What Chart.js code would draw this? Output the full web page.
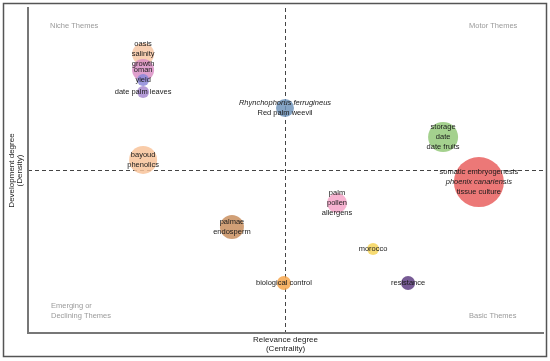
<!DOCTYPE html>
<html>
<head>
<meta charset="utf-8">
<script src="https://cdn.jsdelivr.net/npm/chart.js@4/dist/chart.umd.min.js"></script>
<style>
  html, body { margin: 0; padding: 0; background: #fff; }
  #wrap { width: 550px; height: 361px; }
</style>
</head>
<body>
<div id="wrap"><canvas id="themeMap"></canvas></div>
<script>
// centrality (x) and density (y), both scaled to -1..1
const themes = [
  ["oasis", "salinity", "growth"],
  ["oman"],
  ["yield"],
  ["date palm leaves"],
  ["*Rhynchophorus ferrugineus", "Red palm weevil"],
  ["storage", "date", "date fruits"],
  ["somatic embryogenesis", "*phoenix canariensis", "tissue culture"],
  ["bayoud", "phenolics"],
  ["palmae", "endosperm"],
  ["palm", "pollen", "allergens"],
  ["morocco"],
  ["biological control"],
  ["resistance"]
];
const centrality = [-0.553, -0.553, -0.553, -0.553, -0.002, 0.612, 0.751, -0.553, -0.208, 0.200, 0.340, -0.006, 0.476];
const density    = [0.717, 0.618, 0.557, 0.483, 0.385, 0.206, -0.071, 0.065, -0.348, -0.200, -0.483, -0.692, -0.692];
const clusterSize = [11, 11, 6, 6, 9, 15, 25, 14, 12, 10, 6, 7, 7];
const colors = ["#f7c6a4", "#d98fc4", "#8a86d8", "#a88ad0", "#6f93bb", "#93c97a", "#e8605e",
                "#f8c39a", "#c98f5f", "#f5a5c9", "#f6d45a", "#f6a54c", "#5e3d82"];
const quadrants = {
  niche: ["Niche Themes"],
  motor: ["Motor Themes"],
  emerging: ["Emerging or", "Declining Themes"],
  basic: ["Basic Themes"]
};
const xTitle = ["Relevance degree", "(Centrality)"];
const yTitle = ["Development degree", "(Density)"];

const points = centrality.map((x, i) => ({ x, y: density[i], r: clusterSize[i] }));

const mapDecor = {
  id: "mapDecor",
  beforeDraw(chart) {
    const ctx = chart.ctx;
    const { left, right, top, bottom } = chart.chartArea;
    const xs = chart.scales.x, ys = chart.scales.y;
    ctx.save();
    ctx.fillStyle = "#fff";
    ctx.fillRect(0, 0, chart.width, chart.height);
    ctx.strokeStyle = "#555";
    ctx.lineWidth = 1.5;
    ctx.strokeRect(3.5, 3.5, 543, 353);

    // dashed quadrant lines
    ctx.strokeStyle = "#444";
    ctx.lineWidth = 1;
    ctx.setLineDash([4, 3]);
    const x0 = xs.getPixelForValue(0), y0 = ys.getPixelForValue(0);
    ctx.beginPath();
    ctx.moveTo(x0, top); ctx.lineTo(x0, bottom);
    ctx.moveTo(left, y0); ctx.lineTo(right, y0);
    ctx.stroke();
    ctx.setLineDash([]);

    // quadrant names
    ctx.fillStyle = "#9a9a9a";
    ctx.font = "7.5px 'Liberation Sans', Arial, sans-serif";
    ctx.textBaseline = "middle";
    ctx.textAlign = "left";
    ctx.fillText(quadrants.niche[0], left + 22, top + 18);
    ctx.fillText(quadrants.motor[0], right - 74, top + 18);
    quadrants.emerging.forEach((t, i) => ctx.fillText(t, left + 23, bottom - 27 + i * 10));
    ctx.fillText(quadrants.basic[0], right - 74, bottom - 17);

    // axis titles
    ctx.fillStyle = "#222";
    ctx.font = "8px 'Liberation Sans', Arial, sans-serif";
    ctx.textAlign = "center";
    xTitle.forEach((t, i) => ctx.fillText(t, x0, bottom + 7 + i * 9));
    ctx.translate(12, y0);
    ctx.rotate(-Math.PI / 2);
    yTitle.forEach((t, i) => ctx.fillText(t, 0, i * 8));
    ctx.restore();
  },
  afterDatasetsDraw(chart) {
    const ctx = chart.ctx;
    const meta = chart.getDatasetMeta(0);
    ctx.save();
    ctx.fillStyle = "#1a1a1a";
    ctx.textAlign = "center";
    ctx.textBaseline = "middle";
    meta.data.forEach((el, i) => {
      const lines = themes[i];
      const start = el.y - (lines.length - 1) * 5;
      lines.forEach((t, j) => {
        const italic = t.startsWith("*");
        ctx.font = (italic ? "italic " : "") + "7.5px 'Liberation Sans', Arial, sans-serif";
        ctx.fillText(italic ? t.slice(1) : t, el.x, start + j * 10);
      });
    });
    ctx.restore();
  }
};

new Chart(document.querySelector("#themeMap"), {
  type: "bubble",
  data: {
    datasets: [{
      data: points,
      backgroundColor: colors.map(c => c + "d8"),
      borderColor: colors.map(c => c + "d8"),
      borderWidth: 0
    }]
  },
  options: {
    responsive: true,
    maintainAspectRatio: false,
    animation: false,
    layout: { autoPadding: false, padding: { top: 8, right: 7, left: 0, bottom: 0 } },
    plugins: { legend: { display: false }, tooltip: { enabled: false } },
    scales: {
      x: {
        min: -1, max: 1,
        grid: { display: false },
        ticks: { display: false },
        border: { display: true, color: "#777", width: 2 },
        afterFit(axis) { axis.height = 28; }
      },
      y: {
        min: -1, max: 1,
        grid: { display: false },
        ticks: { display: false },
        border: { display: true, color: "#777", width: 2 },
        afterFit(axis) { axis.width = 28; }
      }
    }
  },
  plugins: [mapDecor]
});
</script>
</body>
</html>
